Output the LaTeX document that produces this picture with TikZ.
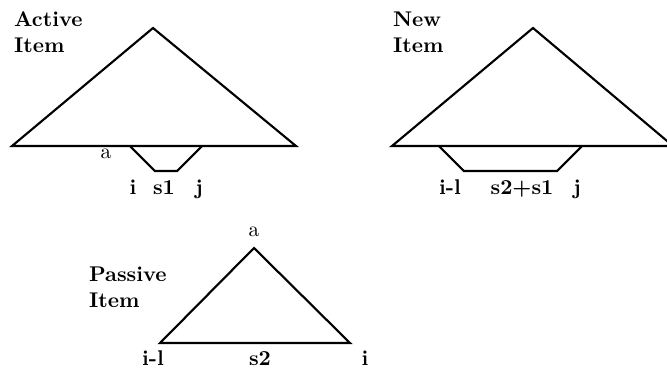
\documentclass[tikz,border=0pt]{standalone}
\usetikzlibrary{calc}

\begin{document}
\begin{tikzpicture}[x=0.47pt, y=-0.47pt, line width=1pt, line join=miter]
		% Styles for the labels
		\tikzset{
			itemlabel/.style={anchor=base west, align=left, inner sep=0pt, font=\bfseries},
			poslabel/.style={anchor=base, inner sep=0pt, font=\bfseries},
			catlabel/.style={anchor=base, inner sep=0pt},
		}
		\useasboundingbox (0,0) rectangle (667,367);
		
		% --- Active item ---
		\coordinate (AT) at (153, 28);   % apex
		\coordinate (AL) at (12, 146);   % base left
		\coordinate (AR) at (296, 146);  % base right
		\draw (AT) -- (AR) -- (AL) -- cycle;
		% the gap under the base
		\coordinate (Ai) at (130, 146);
		\coordinate (Aj) at (202, 146);
		\draw (Ai) -- (155, 171) -- (177, 171) -- (Aj);
		
		% (base of a two line node is the last line)
		\node[itemlabel] (activelbl) at (13, 52) {Active\\Item};
		\node[catlabel] (acat) at (106, 158) {a};
		\node[poslabel] (ai) at (133, 194) {i};
		\node[poslabel] (as) at (164, 194) {s1};
		\node[poslabel] (aj) at (199, 194) {j};
		
		% --- New item ---
		\coordinate (NT) at (533, 28);
		\coordinate (NL) at (392, 146);
		\coordinate (NR) at (673, 146);
		\draw (NT) -- (NR) -- (NL) -- cycle;
		\coordinate (Ni) at (439, 146);
		\coordinate (Nj) at (582, 146);
		\draw (Ni) -- (464, 171) -- (557, 171) -- (Nj);
		
		\node[itemlabel] (newlbl) at (392, 52) {New\\Item};
		\node[poslabel] (ni) at (450, 194) {i-l};
		\node[poslabel] (ns) at (522, 194) {s2+s1};
		\node[poslabel] (nj) at (577, 194) {j};
		
		% --- Passive item ---
		\coordinate (PT) at (254, 248);
		\coordinate (PL) at (160, 343);
		\coordinate (PR) at (350, 343);
		\draw (PT) -- (PR) -- (PL) -- cycle;
		
		\node[itemlabel] (passivelbl) at (88, 307) {Passive\\Item};
		\node[catlabel] (pcat) at (254, 236) {a};
		\node[poslabel] (pi) at (153, 365) {i-l};
		\node[poslabel] (ps) at (260, 365) {s2};
		\node[poslabel] (pj) at (365, 365) {i};
		
	\end{tikzpicture}
\end{document}
